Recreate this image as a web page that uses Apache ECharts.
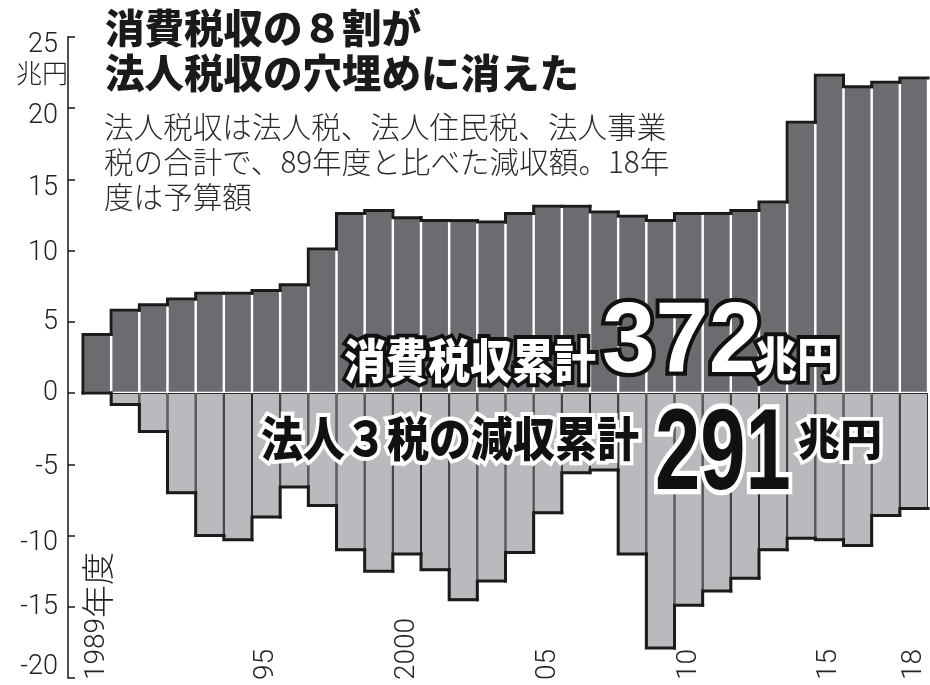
<!DOCTYPE html>
<html>
<head>
<meta charset="utf-8">
<script src="https://cdn.jsdelivr.net/npm/echarts@6/dist/echarts.min.js"></script>
<style>
html,body{margin:0;padding:0;background:#fff;}
#chart{width:930px;height:685px;}
</style>
</head>
<body>
<div id="chart"></div>
<script>
// ---- data ----
const years = ['1989','1990','1991','1992','1993','1994','1995','1996','1997','1998','1999','2000','2001','2002','2003','2004','2005','2006','2007','2008','2009','2010','2011','2012','2013','2014','2015','2016','2017','2018'];
const xTickLabels = ['1989年度','','','','','','95','','','','','2000','','','','','05','','','','','10','','','','','15','','','18'];
const consumptionTax = [4.1, 5.8, 6.2, 6.6, 7.0, 7.0, 7.2, 7.6, 10.1, 12.6, 12.8, 12.3, 12.1, 12.1, 12.0, 12.6, 13.1, 13.1, 12.7, 12.4, 12.1, 12.6, 12.6, 12.8, 13.4, 19.0, 22.3, 21.5, 21.8, 22.1];
const corporateTaxLoss = [0, -0.8, -2.7, -7.0, -10.0, -10.3, -8.7, -6.6, -7.9, -11.0, -12.5, -11.3, -12.4, -14.5, -13.2, -11.2, -8.4, -5.6, -5.4, -11.3, -17.9, -14.9, -13.9, -13.0, -11.0, -10.2, -10.3, -10.7, -8.6, -8.1];
const yTicks = [-20, -15, -10, -5, 0, 5, 10, 15, 20, 25];
const titleLines = ['消費税収の８割が', '法人税収の穴埋めに消えた'];
const noteLines = ['法人税収は法人税、法人住民税、法人事業', '税の合計で、89年度と比べた減収額。18年', '度は予算額'];
const unitLabel = '兆円';
const totalConsumption = '372';
const totalLoss = '291';

// ---- outline data built from series ----
function outlineData(vals) {
  return vals.map((v, i) => [i, v, i === 0 ? 0 : vals[i - 1]]);
}
function outlineRender(params, api) {
  const i = api.value(0), v = api.value(1), p = api.value(2);
  const w = api.size([1, 0])[0];
  const c = api.coord([i, v]);
  const cp = api.coord([i, p]);
  const l = c[0] - w / 2, r = c[0] + w / 2;
  return {
    type: 'polyline',
    shape: { points: [[l, cp[1]], [l, c[1]], [r, c[1]]] },
    style: { stroke: '#1b1b1b', lineWidth: 3, fill: null, lineJoin: 'miter', lineCap: 'square' },
    silent: true
  };
}

const labelShift = { '25': 16, '20': 16, '15': 18, '10': 6, '5': 0, '0': 0, '-5': 6, '-10': 16, '-15': 0, '-20': -22 };
const rich = {};
Object.keys(labelShift).forEach(k => {
  const s = labelShift[k];
  rich['v' + k.replace('-', 'm')] = {
    fontSize: 27, color: '#222', fontFamily: 'Roboto, "Liberation Sans", sans-serif', fontWeight: 300,
    padding: s >= 0 ? [s, 0, 0, 0] : [0, 0, -s, 0]
  };
});

const FONT = '"Noto Sans CJK JP", sans-serif';
const NUMFONT = '"Liberation Sans", Roboto, sans-serif';
function annot(x, y, text, font, fill, stroke, lw, sx, sy) {
  return { type: 'text', x: x, y: y, z: 100, scaleX: sx || 1, scaleY: sy || 1,
    style: { text: text, font: font, fill: fill, stroke: stroke, lineWidth: lw, align: 'left', verticalAlign: 'bottom', strokeFirst: true } };
}
function xLabel(v, idx) {
  const t = xTickLabels[idx];
  if (!t) return '';
  const m = t.match(/^(\d+)(.*)$/);
  return m[2] ? '{n|' + m[1] + '}{k|' + m[2] + '}' : '{n|' + t + '}';
}
const chart = echarts.init(document.getElementById('chart'));
chart.setOption({
  backgroundColor: '#fff',
  animation: false,
  grid: { left: 83, right: 2, top: 36.75, bottom: 7, containLabel: false },
  xAxis: {
    type: 'category',
    data: years,
    axisLine: { show: false, onZero: false },
    axisTick: { show: false },
    axisLabel: {
      inside: true, rotate: 90, margin: -2, interval: 0,
      formatter: xLabel,
      rich: {
        n: { fontSize: 28, color: '#222', fontFamily: 'Roboto, ' + FONT, fontWeight: 300 },
        k: { fontSize: 33, color: '#222', fontFamily: FONT, fontWeight: 300 }
      }
    },
    splitLine: { show: false }
  },
  yAxis: {
    type: 'value', min: -20, max: 25, interval: 5, offset: 15,
    axisLine: { show: true, lineStyle: { color: '#222', width: 1.6 } },
    axisTick: { show: true, inside: true, length: 7, lineStyle: { color: '#222', width: 1.6 } },
    splitLine: { show: false },
    axisLabel: {
      margin: 10,
      formatter: v => yTicks.includes(v) ? '{v' + String(v).replace('-', 'm') + '|' + v + '}' : '',
      rich: rich
    }
  },
  series: [
    {
      type: 'bar', data: consumptionTax, barWidth: '100%', barGap: '-100%',
      itemStyle: { color: '#6b6c70', borderColor: '#ffffff', borderWidth: 1.2 },
      z: 2
    },
    {
      type: 'bar', data: corporateTaxLoss, barWidth: '100%', barGap: '-100%',
      itemStyle: { color: '#b9babd', borderColor: '#2a2a2a', borderWidth: 1 },
      z: 2
    },
    { type: 'custom', data: outlineData(consumptionTax), renderItem: outlineRender, encode: { x: 0, y: 1 }, z: 5, clip: false },
    { type: 'custom', data: outlineData(corporateTaxLoss), renderItem: outlineRender, encode: { x: 0, y: 1 }, z: 5, clip: false }
  ],
  graphic: [
    { type: 'text', left: 105, top: 5, style: { text: titleLines.join('\n'), font: '900 39.5px ' + FONT, fill: '#1a1a1a', lineHeight: 45 } },
    { type: 'text', left: 104, top: 109, style: { text: noteLines.join('\n'), font: '300 29.6px ' + FONT, fill: '#2a2a2a', lineHeight: 35 } },
    { type: 'text', left: 16, top: 60, style: { text: unitLabel, font: '300 26px ' + FONT, fill: '#222' } },
    annot(344, 384, '消費税収累計', '900 42px ' + FONT, '#fff', '#111', 7, 1, 1.12),
    annot(602, 395, totalConsumption, '900 96px ' + NUMFONT, '#fff', '#111', 8, 1, 1.05),
    annot(755, 382, unitLabel, '900 42px ' + FONT, '#fff', '#111', 7, 1, 1.12),
    annot(261, 462, '法人３税の減収累計', '900 42px ' + FONT, '#111', '#fff', 7, 1, 1.12),
    annot(655, 515, totalLoss, '900 98px ' + NUMFONT, '#111', '#fff', 9, 0.83, 1.18),
    annot(798, 461, unitLabel, '900 42px ' + FONT, '#111', '#fff', 7, 1, 1.05)
  ]
});
</script>
</body>
</html>
